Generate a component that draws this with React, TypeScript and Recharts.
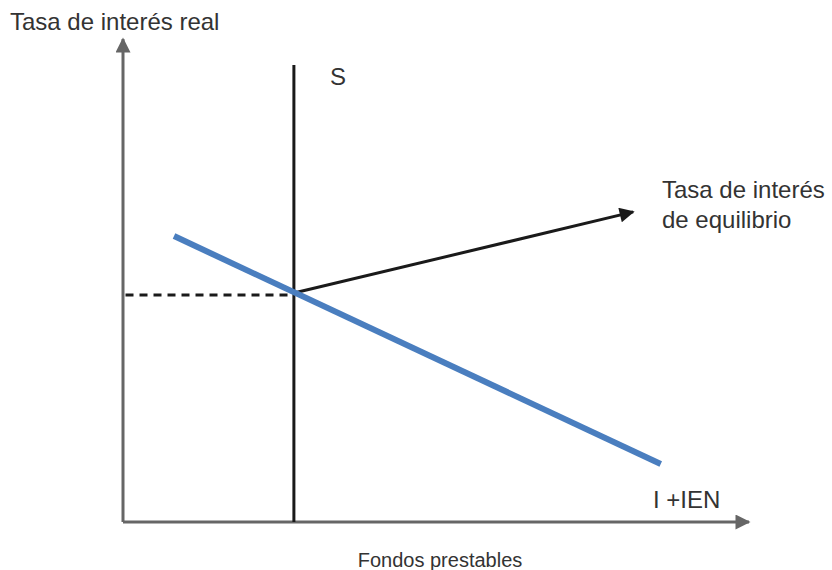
import { LineChart, Line, XAxis, YAxis } from "recharts";

// units: fondos prestables (x) and tasa de interés real (y), 0..100
const axisY = [{ x: 0, y: 0 }, { x: 0, y: 100 }];
const axisX = [{ x: 0, y: 0 }, { x: 100, y: 0 }];
const supply = [{ x: 27.3, y: 0 }, { x: 27.3, y: 94.6 }];
const demand = [{ x: 8.15, y: 59.2 }, { x: 85.9, y: 12.0 }];
const equilibrium = [{ x: 0.4, y: 47.0 }, { x: 27.3, y: 47.0 }];
const pointer = [{ x: 27.3, y: 47.4 }, { x: 81.5, y: 64.2 }];

const labels = {
  yTitle: "Tasa de interés real",
  xTitle: "Fondos prestables",
  supply: "S",
  demand: "I +IEN",
  eq1: "Tasa de interés",
  eq2: "de equilibrio",
};

const font = "'Liberation Sans', Arial, sans-serif";
const ink = "#333";

export default function App() {
  return (
    <div style={{ position: "absolute", left: 0, top: 0, background: "#fff" }}>
      <LineChart width={832} height={570} margin={{ top: 39, right: 83, bottom: 48, left: 123 }}>
        <defs>
          <marker id="axisHead" viewBox="0 0 10 10" refX="9" refY="5" markerWidth="6.7" markerHeight="5" orient="auto" markerUnits="strokeWidth">
            <path d="M0,0 L10,5 L0,10 z" fill="#666" />
          </marker>
          <marker id="blackHead" viewBox="0 0 10 10" refX="9" refY="5" markerWidth="7" markerHeight="5" orient="auto" markerUnits="strokeWidth">
            <path d="M0,0 L10,5 L0,10 z" fill="#1a1a1a" />
          </marker>
        </defs>
        <XAxis type="number" dataKey="x" domain={[0, 100]} hide />
        <YAxis type="number" dataKey="y" domain={[0, 100]} hide />
        <Line data={axisY} dataKey="y" stroke="#666" strokeWidth={3} dot={false} isAnimationActive={false} markerEnd="url(#axisHead)" />
        <Line data={axisX} dataKey="y" stroke="#666" strokeWidth={3} dot={false} isAnimationActive={false} markerEnd="url(#axisHead)" />
        <Line data={equilibrium} dataKey="y" stroke="#1a1a1a" strokeWidth={3} strokeDasharray="8 6" dot={false} isAnimationActive={false} />
        <Line data={supply} dataKey="y" stroke="#1a1a1a" strokeWidth={3} dot={false} isAnimationActive={false} />
        <Line data={pointer} dataKey="y" stroke="#1a1a1a" strokeWidth={3} dot={false} isAnimationActive={false} markerEnd="url(#blackHead)" />
        <Line data={demand} dataKey="y" stroke="#4a7ebf" strokeWidth={6} dot={false} isAnimationActive={false} />
        <text x={10} y={30} fontFamily={font} fontSize={24} fill={ink}>{labels.yTitle}</text>
        <text x={330} y={85} fontFamily={font} fontSize={24} fill={ink}>{labels.supply}</text>
        <text x={662} y={198} fontFamily={font} fontSize={24} fill={ink}>{labels.eq1}</text>
        <text x={662} y={228} fontFamily={font} fontSize={24} fill={ink}>{labels.eq2}</text>
        <text x={653} y={508} fontFamily={font} fontSize={24} fill={ink}>{labels.demand}</text>
        <text x={440} y={567} textAnchor="middle" fontFamily={font} fontSize={20} fill={ink}>{labels.xTitle}</text>
      </LineChart>
    </div>
  );
}
